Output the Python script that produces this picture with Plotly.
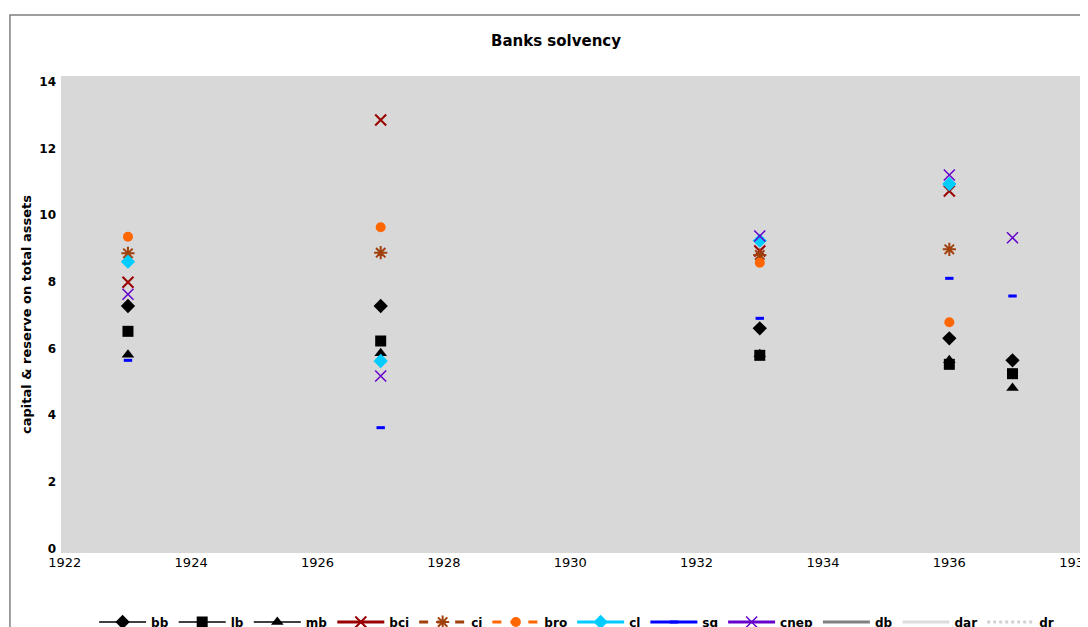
import plotly.graph_objects as go

years = [1923, 1927, 1933, 1936, 1937]
bb = [7.27, 7.27, 6.60, 6.30, 5.64]
lb = [6.51, 6.22, 5.79, 5.52, 5.24]
mb = [5.81, 5.85, 5.82, 5.64, 4.81]
bci = [7.98, 12.85, 8.92, 10.72, None]
ci = [8.85, 8.87, 8.80, 8.97, None]
bro = [9.35, 9.63, 8.57, 6.78, None]
cl = [8.60, 5.62, 9.23, 10.93, None]
sg = [5.64, 3.62, 6.90, 8.10, 7.57]
cnep = [7.62, 5.17, 9.37, 11.20, 9.32]
x_ticks = list(range(1922, 1939, 2))
y_ticks = list(range(0, 15, 2))

series = [
    ("bb", bb, dict(symbol="diamond", color="black", size=11), dict(color="black", width=1.5)),
    ("lb", lb, dict(symbol="square", color="black", size=11), dict(color="black", width=1.5)),
    ("mb", mb, dict(symbol="triangle-up", color="black", size=11), dict(color="black", width=1.5)),
    ("bci", bci, dict(symbol="x-thin-open", color="#990000", size=11, line=dict(color="#990000", width=2)), dict(color="#990000", width=3)),
    ("ci", ci, dict(symbol="asterisk-open", color="#a0410d", size=11, line=dict(color="#a0410d", width=2)), dict(color="#a0410d", width=3, dash="dash")),
    ("bro", bro, dict(symbol="circle", color="#ff6600", size=10), dict(color="#ff6600", width=3, dash="dash")),
    ("cl", cl, dict(symbol="diamond", color="#00ccff", size=11), dict(color="#00ccff", width=3)),
    ("sg", sg, dict(symbol="line-ew", color="#0000ff", size=6, line=dict(color="#0000ff", width=3)), dict(color="#0000ff", width=3)),
    ("cnep", cnep, dict(symbol="x-thin-open", color="#6600cc", size=11, line=dict(color="#6600cc", width=1.5)), dict(color="#6600cc", width=3)),
]

fig = go.Figure()
for name, vals, mk, ln in series:
    fig.add_trace(go.Scatter(x=years, y=vals, mode="markers", marker=mk, name=name,
                             legendgroup=name, showlegend=False))
for name, vals, mk, ln in series:
    fig.add_trace(go.Scatter(x=[None], y=[None], mode="lines+markers", marker=mk, line=ln,
                             name=name, legendgroup=name, showlegend=True))
for name, ln in [("db", dict(color="#808080", width=3)),
                 ("dar", dict(color="#dcdcdc", width=3)),
                 ("dr", dict(color="#d0d0d0", width=3, dash="dot"))]:
    fig.add_trace(go.Scatter(x=[None], y=[None], mode="lines", line=ln, name=name, showlegend=True))

W, H = 1100, 670
fig.update_layout(
    width=W, height=H,
    margin=dict(l=53, r=W - 1074, t=68, b=H - 545),
    paper_bgcolor="white",
    plot_bgcolor="#d8d8d8",
    font=dict(family="DejaVu Sans", color="black", size=11),
    title=dict(text="<b>Banks solvency</b>", x=548 / W, xanchor="center", y=1 - 33 / H, yanchor="middle",
               font=dict(size=15, family="DejaVu Sans")),
    xaxis=dict(range=[1921.94, 1938.1], tickvals=x_ticks, showgrid=False, zeroline=False,
               showline=False, ticks="", tickfont=dict(size=13), automargin=False),
    yaxis=dict(range=[-0.14, 14.17], tickvals=y_ticks, showgrid=False, zeroline=False,
               showline=False, ticks="", tickfont=dict(size=12, weight="bold"),
               ticklabelstandoff=4, automargin=False,
               title=dict(text="capital & reserve on total assets",
                          font=dict(size=13, weight="bold"), standoff=4)),
    legend=dict(orientation="h", x=0.505, xanchor="center", y=-0.1447, yanchor="middle",
                font=dict(size=12, weight="bold"), bgcolor="rgba(0,0,0,0)", itemwidth=47),
    showlegend=True,
    shapes=[dict(type="rect", xref="paper", yref="paper", x0=-0.05, x1=1.3, y0=-0.6, y1=1.128,
                 line=dict(color="#7f7f7f", width=1.5), fillcolor="rgba(0,0,0,0)", layer="below")],
)
fig.write_html("out.html")
